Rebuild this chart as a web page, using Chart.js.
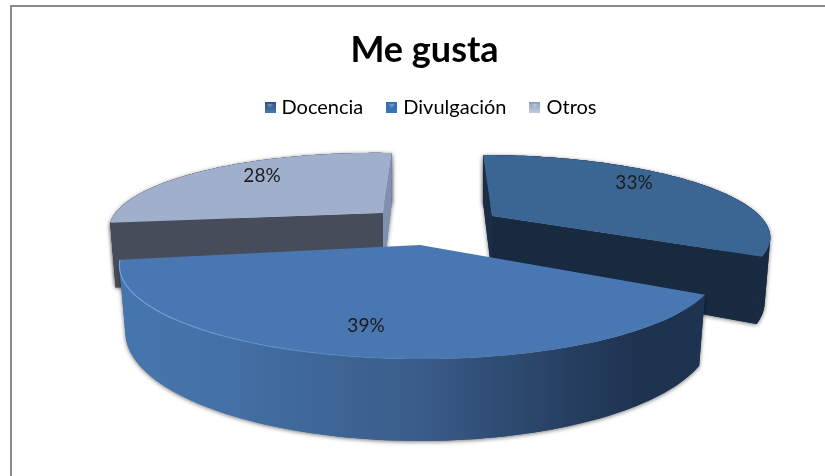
<!DOCTYPE html>
<html>
<head>
<meta charset="utf-8">
<style>html,body{margin:0;padding:0;background:#fff}canvas{display:block}</style>
<script src="https://cdn.jsdelivr.net/npm/chart.js@4"></script>
</head>
<body>
<canvas id="c" width="825" height="476"></canvas>
<script>
const categories = ['Docencia', 'Divulgación', 'Otros'];
const values = [33, 39, 28];
const titleText = 'Me gusta';
const topColors = ['#3B6592', '#4877B2', '#9FAFCC'];
const faceColors = ['#182A40', '#1E3350', '#464C59'];
const backFaceColors = ['#1A2D46', '#1E3350', '#8090AF'];

// Projection of each exploded slice (screen layout of the 3-D look)
const views = [
  {ax:492, ay:216, rx:268,   ry:75,   q:.23, sk:11,   b:0,   d:60},
  {ax:420, ay:245, rx:291.5, ry:87.8, q:.23, sk:-4.4, b:2.3, d:63},
  {ax:383, ay:213, rx:263.6, ry:73.8, q:.23, sk:-11,  b:4.6, d:62}
];
const labelOffsets = [[142,-33],[-54,81],[-121,-37]];
const drawOrder = [2, 0, 1];

function project(v, theta, rho) {
  const x = Math.sin(theta) * rho, y = -Math.cos(theta) * rho;
  const w = 1 - v.q * y;
  return {x: v.ax + (v.rx * x + v.sk * y) / w, y: v.ay + (v.ry * y + v.b * x) / w, w};
}
function lower(v, p) {
  return {x: v.ax + (p.x - v.ax) * 0.98, y: p.y + v.d / p.w};
}
function poly(ctx, pts) {
  ctx.beginPath();
  pts.forEach((p, i) => i ? ctx.lineTo(p.x, p.y) : ctx.moveTo(p.x, p.y));
  ctx.closePath();
}
function arcPts(v, t0, t1) {
  const pts = [], n = 90;
  for (let i = 0; i <= n; i++) pts.push(project(v, t0 + (t1 - t0) * i / n, 1));
  return pts;
}
function wallPath(ctx, v, outer) {
  // one strip per segment, all wound the same way so overlaps never cancel
  ctx.beginPath();
  for (let k = 0; k < outer.length - 1; k++) {
    const a = outer[k], b = outer[k + 1], c = lower(v, b), d = lower(v, a);
    const area = (b.x - a.x) * (c.y - a.y) - (b.y - a.y) * (c.x - a.x);
    const q = area >= 0 ? [a, b, c, d] : [d, c, b, a];
    ctx.moveTo(q[0].x, q[0].y);
    ctx.lineTo(q[1].x, q[1].y);
    ctx.lineTo(q[2].x, q[2].y);
    ctx.lineTo(q[3].x, q[3].y);
    ctx.closePath();
  }
}
function shadowOn(ctx) {
  ctx.shadowColor = 'rgba(0,0,0,.55)';
  ctx.shadowBlur = 4;
  ctx.shadowOffsetX = 0;
  ctx.shadowOffsetY = 1;
}
function shadowOff(ctx) {
  ctx.shadowColor = 'transparent';
  ctx.shadowBlur = 0;
  ctx.shadowOffsetY = 0;
}
function drawSlice(ctx, arc, i) {
  const v = views[i];
  const t0 = arc.startAngle + Math.PI / 2, t1 = arc.endAngle + Math.PI / 2;
  const outer = arcPts(v, t0, t1);
  const apex = project(v, 0, 0);
  const first = outer[0], last = outer[outer.length - 1];
  const backPt = i === 2 ? last : first;
  const frontPt = i === 2 ? first : last;

  let wallFill = faceColors[i];
  if (i === 1) {
    const g = ctx.createLinearGradient(122, 0, 703, 0);
    g.addColorStop(0, '#4675AD');
    g.addColorStop(0.15, '#4472A8');
    g.addColorStop(0.5, '#3A5D8A');
    g.addColorStop(0.88, '#1E3350');
    g.addColorStop(1, '#1E3350');
    wallFill = g;
  }
  const body = () => {
    wallPath(ctx, v, outer);
    ctx.fillStyle = wallFill;
    ctx.fill();
    // cut faces of the side slices (the front slice hides its own)
    if (i !== 1) {
      poly(ctx, [backPt, apex, lower(v, apex), lower(v, backPt)]);
      ctx.fillStyle = backFaceColors[i];
      ctx.fill();
      poly(ctx, [frontPt, apex, lower(v, apex), lower(v, frontPt)]);
      ctx.fillStyle = faceColors[i];
      ctx.fill();
    }
  };

  ctx.save();
  shadowOn(ctx);
  body();
  shadowOff(ctx);
  body();
  // top surface
  poly(ctx, [apex].concat(outer));
  ctx.fillStyle = arc.options.backgroundColor;
  ctx.fill();
  if (i === 1) {
    // light rim on the front edge
    const g = ctx.createLinearGradient(122, 0, 420, 0);
    g.addColorStop(0, 'rgba(120,170,235,.85)');
    g.addColorStop(1, 'rgba(120,170,235,0)');
    ctx.beginPath();
    outer.forEach((p, k) => k ? ctx.lineTo(p.x, p.y) : ctx.moveTo(p.x, p.y));
    ctx.strokeStyle = g;
    ctx.lineWidth = 1.2;
    ctx.stroke();
  }
  ctx.restore();
}

const pie3d = {
  id: 'pie3d',
  afterLayout(chart) {
    chart.legend.left += 8;
    chart.legend.right += 8;
    chart.legend.top -= 2;
  },
  beforeDraw(chart) {
    const ctx = chart.ctx;
    ctx.save();
    ctx.fillStyle = '#ffffff';
    ctx.fillRect(0, 0, chart.width, chart.height);
    ctx.fillStyle = '#8A8A8A';
    ctx.fillRect(10, 5, 2, chart.height - 5);
    ctx.fillRect(10, 5, chart.width - 10, 2);
    ctx.restore();
  },
  beforeDatasetDraw(chart, args) {
    const ctx = chart.ctx;
    const arcs = args.meta.data;
    drawOrder.forEach(i => drawSlice(ctx, arcs[i], i));
    ctx.save();
    ctx.font = '19px Lato';
    ctx.fillStyle = '#1c1c1c';
    ctx.textAlign = 'center';
    ctx.textBaseline = 'middle';
    const total = values.reduce((a, b) => a + b, 0);
    arcs.forEach((arc, i) => {
      const t = Math.round(values[i] / total * 100) + '%';
      ctx.fillText(t, views[i].ax + labelOffsets[i][0], views[i].ay + labelOffsets[i][1]);
    });
    ctx.restore();
    return false;
  }
};

function swatch(top, bottom) {
  const c = document.createElement('canvas');
  c.width = 11; c.height = 11;
  const x = c.getContext('2d');
  const g = x.createLinearGradient(0, 0, 0, 11);
  g.addColorStop(0, top);
  g.addColorStop(1, bottom);
  x.fillStyle = g;
  x.fillRect(0, 0, 11, 11);
  x.fillStyle = 'rgba(255,255,255,.28)';
  x.beginPath(); x.moveTo(2, 2); x.lineTo(9, 2); x.lineTo(5.5, 6); x.closePath(); x.fill();
  return c;
}
const swatches = [swatch('#2B4F7C', '#4A78AE'), swatch('#2F6DB5', '#3B74BA'), swatch('#8A9ABB', '#C2CCE0')];

new Chart(document.getElementById('c'), {
  type: 'pie',
  data: {
    labels: categories,
    datasets: [{data: values, backgroundColor: topColors, borderWidth: 0}]
  },
  options: {
    responsive: false,
    animation: false,
    layout: {padding: {left: 24, top: 0, right: 0, bottom: 0}},
    plugins: {
      tooltip: {enabled: false},
      title: {
        display: true,
        text: titleText,
        color: '#000',
        font: {family: 'Lato', size: 36, weight: 'bold'},
        padding: {top: 29, bottom: 0}
      },
      legend: {
        position: 'top',
        labels: {
          font: {family: 'Lato', size: 20},
          color: '#222',
          usePointStyle: true,
          boxWidth: 3,
          boxHeight: 11,
          padding: 27,
          generateLabels(chart) {
            return categories.map((name, i) => ({
              text: name, pointStyle: swatches[i], index: i,
              fillStyle: topColors[i], strokeStyle: topColors[i], lineWidth: 0, hidden: false
            }));
          }
        }
      }
    }
  },
  plugins: [pie3d]
});
</script>
</body>
</html>
